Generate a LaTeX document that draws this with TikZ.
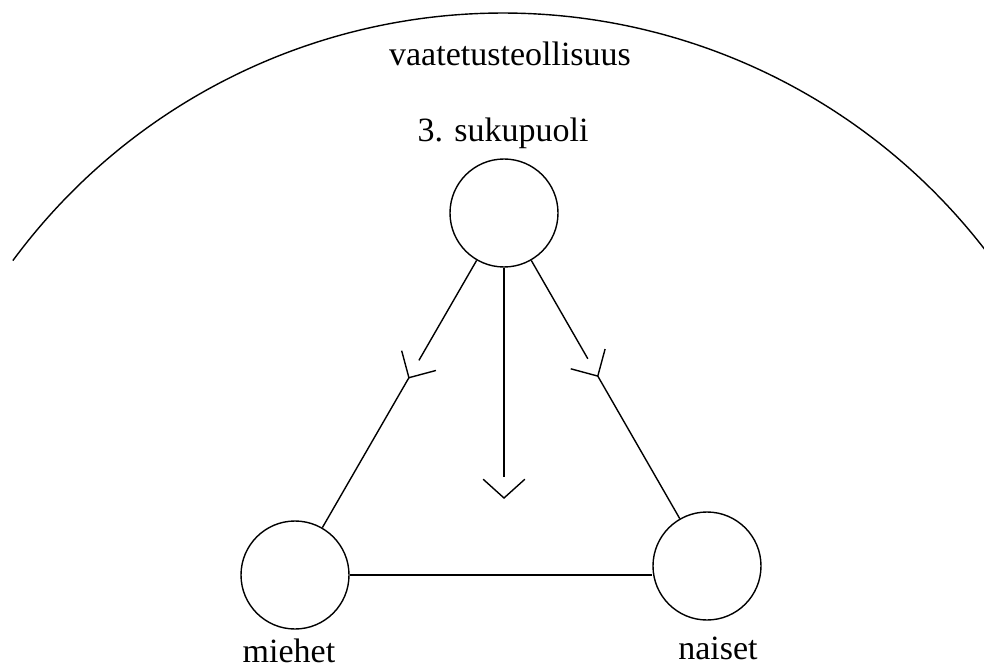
\documentclass[tikz,border=0pt]{standalone}
\usepackage{fontspec}
\setmainfont{Liberation Serif}
\usetikzlibrary{calc}

\tikzset{
  role/.style={circle, draw, line width=1.4pt, minimum size=108pt, inner sep=0pt},
  tie/.style={line width=1.4pt},
  label/.style={anchor=base, font=\fontsize{34}{40}\selectfont, inner sep=0pt}
}

\begin{document}
\begin{tikzpicture}[x=1pt, y=-1pt]
  \useasboundingbox (0,0) rectangle (984,668);
  \clip (0,0) rectangle (984,668);

  % the surrounding industry: a wide arc over the whole scene
  \draw[tie] (503,622) ++(143.6:609pt) arc[start angle=143.6, end angle=37.0, radius=609pt];
  \node[label] (industry) at (510,66) {vaatetusteollisuus};

  % the three genders
  \node[role] (third) at (504,213) {};
  \node[role] (men)   at (295,575) {};
  \node[role] (women) at (707,566) {};

  \node[label] (thirdlbl) at (503,142) {3. sukupuoli};
  \node[label] (menlbl)   at (289,662) {miehet};
  \node[label] (womenlbl) at (718,659) {naiset};

  % arrow tips along the connectors
  \coordinate (ltip) at ($(third)!0.455!(men)$);
  \coordinate (rtip) at ($(third)!0.462!(women)$);
  \coordinate (vtip) at (504,498);
  \coordinate (lback) at ($(ltip)!20pt!(third)$);
  \coordinate (rback) at ($(rtip)!20pt!(third)$);
  \coordinate (vback) at (504,477);

  % left connector with open head
  \draw[tie] (third) -- (lback);
  \draw[tie] (ltip) -- (men);
  \draw[tie] ($(ltip)!28pt!45:(third)$) -- (ltip) -- ($(ltip)!28pt!-45:(third)$);

  % right connector with open head
  \draw[tie] (third) -- (rback);
  \draw[tie] (rtip) -- (women);
  \draw[tie] ($(rtip)!28pt!45:(third)$) -- (rtip) -- ($(rtip)!28pt!-45:(third)$);

  % central arrow pointing down
  \draw[tie] (third) -- (vback);
  \draw[tie] ($(vtip)!28pt!48:(third)$) -- (vtip) -- ($(vtip)!28pt!-48:(third)$);

  % base line between men and women
  \draw[tie] (men.east) -- (women.west |- men.east);
\end{tikzpicture}
\end{document}
